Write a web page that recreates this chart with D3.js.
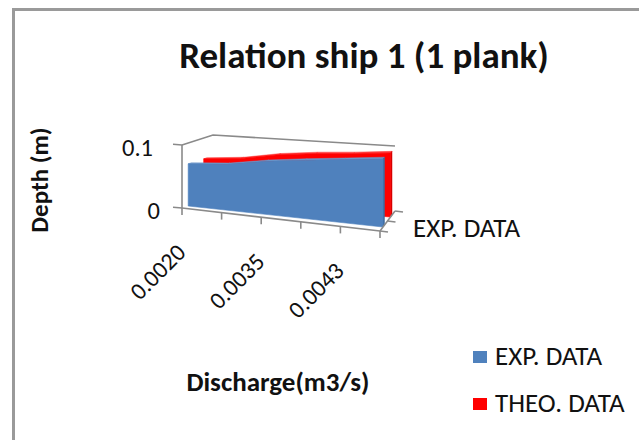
<!DOCTYPE html>
<html>
<head>
<meta charset="utf-8">
<script src="https://cdn.jsdelivr.net/npm/d3@7"></script>
<style>
  body { margin: 0; background: #fff; }
  svg { display: block; }
  text { font-family: Carlito, Calibri, "Open Sans", sans-serif; fill: #111; }
</style>
</head>
<body>
<svg id="chart" width="639" height="440"></svg>
<script>
// Discharge categories (m3/s); only every other one carries a label on the axis
const categories = ["0.0020", "0.0028", "0.0035", "0.0040", "0.0043", "0.0047"];
// Flow depth (m) per discharge
const expData  = [0.067, 0.072, 0.082, 0.089, 0.095, 0.101];
const theoData = [0.067, 0.072, 0.082, 0.088, 0.092, 0.097];
const seriesNames  = ["EXP. DATA", "THEO. DATA"];
const valueTicks = [0, 0.1];
const valueTickLabels = ["0", "0.1"];
const chartTitle = "Relation ship 1 (1 plank)";
const xTitle = "Discharge(m3/s)";
const yTitle = "Depth (m)";

const colors = { "EXP. DATA": "#4F81BD", "THEO. DATA": "#FF0000" };
const tops   = { "EXP. DATA": "#6F97C9", "THEO. DATA": "#FF3A3A" };
const sides  = { "EXP. DATA": "#3E6B9F", "THEO. DATA": "#D80000" };
const axisGray = "#8A8A8A";

const svg = d3.select("#chart");

// Outer chart frame (continues past the right and bottom edges)
svg.append("path")
  .attr("d", "M13.5,445 L13.5,9.5 L645,9.5")
  .attr("fill", "none").attr("stroke", "#9A9A9A").attr("stroke-width", 3);

// ---- oblique 3D box: floor corners and wall heights (px) for the top tick
const floorFL = [182, 208], floorFR = [380, 231], floorBL = [213, 198], floorBR = [395, 211];
const wallFL = 63, wallFR = 68, wallBL = 63, wallBR = 65;

const xPos = d3.scalePoint().domain(categories).range([0, 1]);
const zPos = d3.scalePoint().domain(seriesNames).range([0, 1]).padding(0.5);
const yVal = d3.scaleLinear().domain([0, 0.1]).range([0, 1]);
const lerp = (a, b, t) => a + (b - a) * t;

function P(u, z, v) {
  const fx = lerp(lerp(floorFL[0], floorFR[0], u), lerp(floorBL[0], floorBR[0], u), z);
  const fy = lerp(lerp(floorFL[1], floorFR[1], u), lerp(floorBL[1], floorBR[1], u), z);
  const h  = lerp(lerp(wallFL, wallFR, u), lerp(wallBL, wallBR, u), z);
  return [fx, fy - yVal(v) * h];
}
const poly = pts => "M" + pts.map(p => p[0].toFixed(2) + "," + p[1].toFixed(2)).join("L") + "Z";
const seg = (a, b) => "M" + a[0] + "," + a[1] + "L" + b[0] + "," + b[1];

const axes = svg.append("g").attr("stroke", axisGray).attr("stroke-width", 1.6).attr("fill", "none");

// Wall top edges (side wall and back wall)
axes.append("path").attr("d",
  "M" + P(0, 0, 0.1) + "L" + P(0, 1, 0.1) + "L" + P(1, 1, 0.1));

// ---- area slabs, back series first
const seriesData = { "EXP. DATA": expData, "THEO. DATA": theoData };
const slabs = svg.append("g");
seriesNames.slice().reverse().forEach(name => {
  const vals = seriesData[name];
  const z0 = zPos(name) - 0.05, z1 = zPos(name) + 0.05;
  const g = slabs.append("g");
  // top surface, one facet per segment
  for (let i = 0; i < categories.length - 1; i++) {
    const ua = xPos(categories[i]), ub = xPos(categories[i + 1]);
    g.append("path")
      .attr("d", poly([P(ua, z0, vals[i]), P(ub, z0, vals[i + 1]), P(ub, z1, vals[i + 1]), P(ua, z1, vals[i])]))
      .attr("fill", tops[name]).attr("stroke", tops[name]).attr("stroke-width", 0.5);
  }
  // right end face
  const last = vals[vals.length - 1];
  g.append("path")
    .attr("d", poly([P(1, z0, 0), P(1, z0, last), P(1, z1, last), P(1, z1, 0)]))
    .attr("fill", sides[name]).attr("stroke", sides[name]).attr("stroke-width", 0.5);
  // front face
  const front = categories.map((c, i) => P(xPos(c), z0, vals[i]));
  front.push(P(1, z0, 0), P(0, z0, 0));
  g.append("path").attr("d", poly(front))
    .attr("fill", colors[name]).attr("stroke", colors[name]).attr("stroke-width", 0.6);
});

// ---- axes drawn over the floor edges
const axesFront = svg.append("g").attr("stroke", axisGray).attr("stroke-width", 1.6).attr("fill", "none");
// value axis on the front-left edge
axesFront.append("path").attr("d", "M" + P(0, 0, 0) + "L" + P(0, 0, 0.1));
valueTicks.forEach(v => {
  const p = P(0, 0, v);
  axesFront.append("path").attr("d", seg(p, [p[0] - 9, p[1] - 0.8]));
});
// category axis along the front floor edge
axesFront.append("path").attr("d", "M" + P(0, 0, 0) + "L" + P(1, 0, 0));
categories.forEach(c => {
  const p = P(xPos(c), 0, 0);
  axesFront.append("path").attr("d", seg(p, [p[0], p[1] + 7]));
});
// depth (series) axis along the right floor edge
axesFront.append("path").attr("d", "M" + P(1, 0, 0) + "L" + P(1, 1, 0));
[0, 0.5, 1].forEach(z => {
  const p = P(1, z, 0);
  axesFront.append("path").attr("d", seg(p, [p[0] + 8, p[1] + 1]));
});

// ---- text
svg.append("text").text(chartTitle)
  .attr("x", 364).attr("y", 68).attr("text-anchor", "middle")
  .attr("font-size", 37).attr("font-weight", "bold");

svg.append("text").text(yTitle)
  .attr("transform", "translate(48,180) rotate(-90)").attr("text-anchor", "middle")
  .attr("font-size", 25).attr("font-weight", "bold");

svg.append("text").text(xTitle)
  .attr("x", 278).attr("y", 391).attr("text-anchor", "middle")
  .attr("font-size", 27).attr("font-weight", "bold");

valueTicks.forEach((v, i) => {
  const p = P(0, 0, v);
  svg.append("text").text(valueTickLabels[i])
    .attr("x", p[0] - (v === 0 ? 22 : 29)).attr("y", p[1] + 11)
    .attr("text-anchor", "end").attr("font-size", 24.5);
});

categories.forEach((c, i) => {
  if (i % 2 !== 0) return;
  const p = P(xPos(c), 0, 0);
  svg.append("text").text(c)
    .attr("transform", `translate(${p[0] + 5},${p[1] + 46}) rotate(-45)`)
    .attr("text-anchor", "end").attr("font-size", 24);
});

const pd = P(1, zPos("EXP. DATA"), 0);
svg.append("text").text("EXP. DATA")
  .attr("x", 413).attr("y", pd[1] + 11).attr("font-size", 27);

// legend
const legend = svg.append("g");
seriesNames.forEach((name, i) => {
  const y = 351 + i * 47;
  legend.append("rect").attr("x", 473).attr("y", y).attr("width", 14).attr("height", 12)
    .attr("fill", colors[name]);
  legend.append("text").text(name).attr("x", 495).attr("y", y + 14).attr("font-size", 27);
});
</script>
</body>
</html>
